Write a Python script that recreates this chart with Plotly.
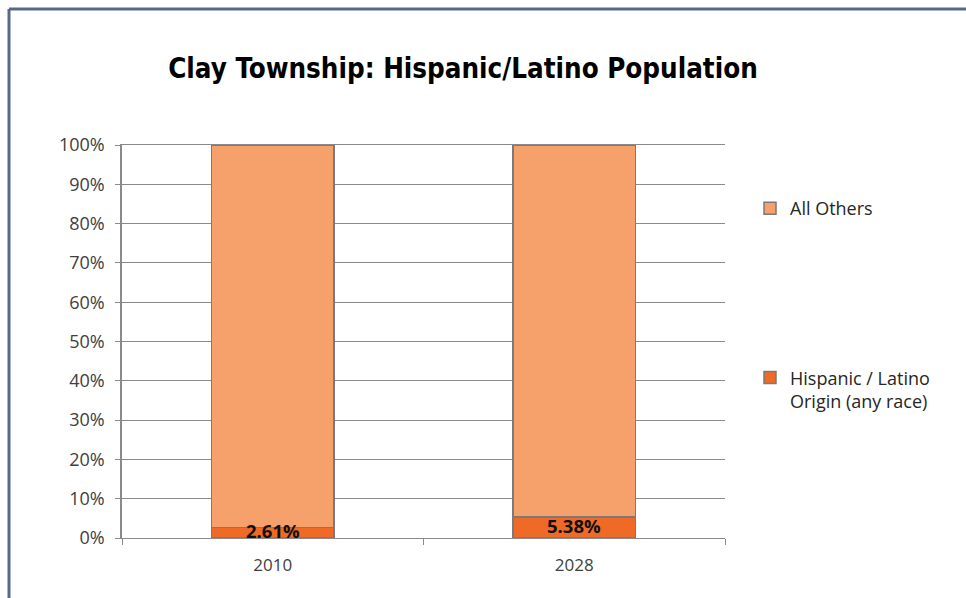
import plotly.graph_objects as go

# Categories and shares (%)
years = ["2010", "2028"]
hispanic = [2.61, 5.38]
all_others = [97.39, 94.62]
hispanic_labels = ["2.61%", "5.38%"]
y_ticks = [0, 10, 20, 30, 40, 50, 60, 70, 80, 90, 100]
y_tick_text = [f"{v}%" for v in y_ticks]

C_LIGHT = "#F6A06C"
C_DARK = "#EF6A26"
C_EDGE = "#7a7a7a"
C_GRID = "#8a8a8a"
TXT_FONT = "Open Sans"
TITLE_FONT = "Liberation Sans Narrow, DejaVu Sans Condensed, Roboto Condensed, Roboto"

fig = go.Figure()
fig.add_trace(go.Bar(
    x=years, y=hispanic, name="Hispanic / Latino<br>Origin (any race)",
    marker=dict(color=C_DARK, line=dict(color=C_EDGE, width=1.5)),
    legendgroup="b", legendrank=2, hoverinfo="skip",
))
fig.add_trace(go.Bar(
    x=years, y=all_others, name="All Others",
    marker=dict(color=C_LIGHT, line=dict(color=C_EDGE, width=1.5)),
    legendgroup="a", legendrank=1, hoverinfo="skip",
))

# value labels centred on the Hispanic segments (category index positions)
for i, (v, lab) in enumerate(zip(hispanic, hispanic_labels)):
    fig.add_annotation(x=i, y=v / 2, text=f"<b>{lab}</b>", showarrow=False,
                       font=dict(family=TXT_FONT, size=18.5, color="#111111"),
                       yshift=2)

L, R, T, B = 122, 241, 145, 60
W, H = 966, 598
pw, ph = W - L - R, H - T - B

def px_x(px):
    return (px - L) / pw

def px_y(py):
    return (H - B - py) / ph

# outer frame (top and left edges)
frame_col = "#566a88"
fig.add_shape(type="line", xref="paper", yref="paper",
              x0=px_x(9), x1=px_x(980), y0=px_y(9), y1=px_y(9),
              line=dict(color=frame_col, width=3))
fig.add_shape(type="line", xref="paper", yref="paper",
              x0=px_x(9), x1=px_x(9), y0=px_y(9), y1=px_y(610),
              line=dict(color=frame_col, width=3))

fig.update_layout(
    width=W, height=H,
    margin=dict(l=L, r=R, t=T, b=B),
    barmode="stack", bargap=0.595,
    paper_bgcolor="white", plot_bgcolor="white",
    title=dict(text="<b>Clay Township: Hispanic/Latino Population</b>",
               x=px_x(463), xanchor="center", xref="paper",
               y=1 - 68 / H, yanchor="middle",
               font=dict(family=TITLE_FONT, size=27.5, color="#000000")),
    showlegend=True,
    legend=dict(x=px_x(750), xanchor="left", y=px_y(190), yanchor="top",
                traceorder="grouped", tracegroupgap=143,
                valign="top", itemwidth=30,
                font=dict(family=TXT_FONT, size=18, color="#262626"),
                bgcolor="rgba(0,0,0,0)"),
    xaxis=dict(type="category", range=[-0.5, 1.5], showgrid=False,
               showline=True, mirror=True, linecolor=C_GRID,
               linewidth=1, ticks="outside", tickson="boundaries", ticklen=6,
               tickcolor=C_GRID, ticklabelstandoff=12,
               tickfont=dict(family=TXT_FONT, size=17, color="#404040")),
    yaxis=dict(range=[0, 100], tickvals=y_ticks, ticktext=y_tick_text,
               showgrid=True, gridcolor=C_GRID, gridwidth=1,
               showline=True, linecolor=C_GRID, linewidth=1.5,
               ticks="outside", ticklen=5, tickcolor=C_GRID,
               ticklabelstandoff=7, zeroline=False,
               tickfont=dict(family=TXT_FONT, size=18, color="#404040")),
)

fig.write_html("out.html")
